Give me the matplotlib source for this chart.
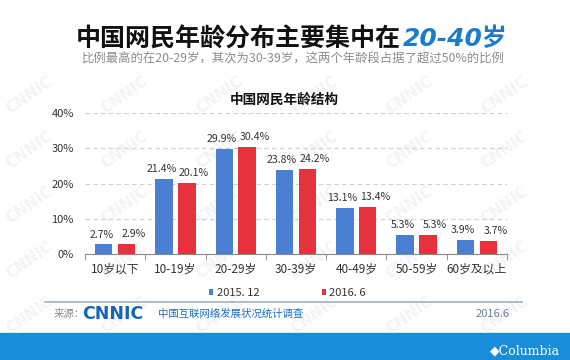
import numpy as np
import matplotlib
matplotlib.use('Agg')
import matplotlib.pyplot as plt
from matplotlib.patches import Rectangle

plt.rcParams['font.family'] = ['Noto Sans CJK SC', 'DejaVu Sans']

categories = ['10岁以下', '10-19岁', '20-29岁', '30-39岁', '40-49岁', '50-59岁', '60岁及以上']
s2015 = [2.7, 21.4, 29.9, 23.8, 13.1, 5.3, 3.9]
s2016 = [2.9, 20.1, 30.4, 24.2, 13.4, 5.3, 3.7]
series_names = ['2015. 12', '2016. 6']
yticks = [0, 10, 20, 30, 40]

blue = '#4a7fd2'
red = '#e6323c'

fig = plt.figure(figsize=(5.7, 3.6), dpi=100)
W, H = 570, 360

def fx(px):
    return px / W

def fy(py):
    return 1 - py / H

# faint watermark behind everything
for wx in range(30, 570, 95):
    for wy in range(95, 330, 55):
        fig.text(fx(wx), fy(wy), 'CNNIC', color='#f2f4f7', fontsize=11, fontweight='bold',
                 rotation=35, ha='center', va='center', zorder=-5, family=['DejaVu Sans'])

# titles
fig.text(fx(401), fy(39), '中国网民年龄分布主要集中在', fontsize=18, fontweight='heavy',
         color='#111111', ha='right', va='center')
fig.text(fx(403), fy(39), '20-40岁', fontsize=18, fontweight='bold', style='italic',
         color='#1f7bc9', ha='left', va='center', family=['DejaVu Sans', 'Noto Sans CJK SC'])
fig.text(fx(293), fy(59), '比例最高的在20-29岁，其次为30-39岁，这两个年龄段占据了超过50%的比例',
         fontsize=8.9, color='#8c8c8c', ha='center', va='center')

ax = fig.add_axes([fx(85), fy(254), fx(422), (254 - 113) / H])
x = np.arange(len(categories))
bw = 0.29
ax.bar(x - 0.19, s2015, bw, color=blue, zorder=3, label=series_names[0])
ax.bar(x + 0.19, s2016, bw, color=red, zorder=3, label=series_names[1])
for i in range(len(categories)):
    ax.text(x[i] - 0.23, s2015[i] + 1.4, f'{s2015[i]}%', ha='center', va='bottom',
            fontsize=7.6, color='#333333')
    ax.text(x[i] + 0.31, s2016[i] + 1.4, f'{s2016[i]}%', ha='center', va='bottom',
            fontsize=7.6, color='#333333')

ax.set_xlim(-0.5, len(categories) - 0.5)
ax.set_ylim(0, 40)
ax.set_yticks(yticks)
ax.set_yticklabels([f'{t}%' for t in yticks], fontsize=8, color='#333333')
ax.set_xticks(x)
ax.set_xticklabels(categories, fontsize=8.5, color='#333333')
ax.set_xticks(np.arange(-0.5, len(categories), 1), minor=True)
ax.tick_params(axis='x', which='major', length=0, pad=6)
ax.tick_params(axis='x', which='minor', length=4, color='#888888')
ax.tick_params(axis='y', length=0, pad=8)
for t in yticks[1:]:
    ax.axhline(t, color='#d0d0d0', lw=0.8, ls=(0, (4, 3)), zorder=1)
for s in ['top', 'right', 'left']:
    ax.spines[s].set_visible(False)
ax.spines['bottom'].set_color('#888888')
ax.patch.set_alpha(0)

fig.text(fx(284), fy(100), '中国网民年龄结构', fontsize=9.8, fontweight='bold',
         color='#111111', ha='center', va='center')

leg = fig.legend(loc='center left', bbox_to_anchor=(fx(209), fy(293)), ncol=2, frameon=False,
                 fontsize=8, handlelength=0.4, handleheight=0.4, handletextpad=0.3,
                 columnspacing=5.6, borderpad=0, borderaxespad=0)
for t in leg.get_texts():
    t.set_color('#333333')

# footer
fig.add_artist(plt.Line2D([fx(45), fx(522)], [fy(302), fy(302)], color='#9fb0c2', lw=1.2))
fig.text(fx(54), fy(314), '来源：', fontsize=7.5, color='#8c8c8c', ha='left', va='center')
fig.text(fx(82), fy(314), 'CNNIC', fontsize=12.5, fontweight='heavy', color='#1565b5',
         ha='left', va='center', family=['DejaVu Sans'])
fig.text(fx(158), fy(314), '中国互联网络发展状况统计调查', fontsize=7.5, color='#1b6fc2',
         ha='left', va='center')
fig.text(fx(510), fy(314), '2016.6', fontsize=8, color='#6a7f96', ha='right', va='center')

fig.add_artist(Rectangle((0, 0), 1, fy(333), transform=fig.transFigure, color='#1a8dd8', zorder=0))
fig.text(fx(560), fy(351), '◆Columbia', fontsize=9, color='white', ha='right', va='center',
         family=['DejaVu Serif'])

fig.savefig('out.png', dpi=100)
